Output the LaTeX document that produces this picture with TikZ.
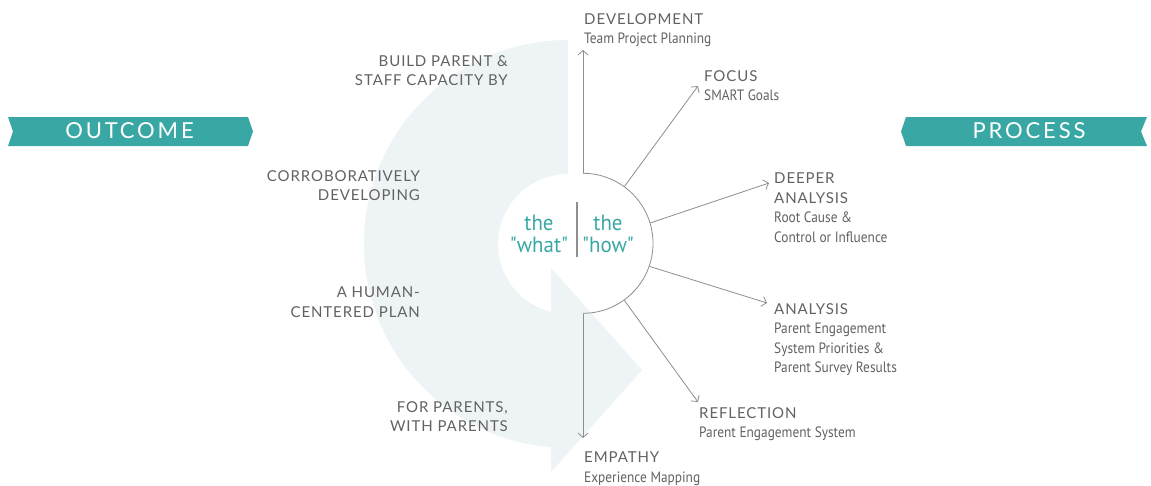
\documentclass[tikz,border=0pt]{standalone}
\usepackage{fontspec}
\setmainfont{Lato}
\newfontfamily\capsfont{Lato}[LetterSpace=6]
\newfontfamily\bannerfont{Lato}[LetterSpace=13]
\newfontfamily\condfont{PT Sans}[FakeStretch=0.89]
\newfontfamily\tealfont{PT Sans}[FakeStretch=0.95]
\usetikzlibrary{arrows.meta}
\definecolor{bannerteal}{HTML}{39A8A5}
\definecolor{ringblue}{HTML}{EEF4F6}
\definecolor{txtgray}{HTML}{626262}
\definecolor{linegray}{HTML}{8E8E8E}
\newcommand\subln{\condfont\fontsize{15}{19.5}\selectfont}
\begin{document}
\begin{tikzpicture}[x=1pt,y=-1pt,
  caps/.style={font=\capsfont\fontsize{15}{19.5}\selectfont, text=txtgray, inner sep=0pt},
  rlabel/.style={caps, anchor=north west, align=left},
  llabel/.style={caps, anchor=north east, align=right},
  arr/.style={draw=linegray, line width=0.8pt, -{Straight Barb[length=4.5pt,width=10pt]}},
  bannertext/.style={font=\bannerfont\fontsize{22}{24}\selectfont, text=white, inner sep=0pt},
  tealtext/.style={font=\tealfont\fontsize{22}{21.5}\selectfont, text=bannerteal, inner sep=0pt, align=center, anchor=north}
]
\useasboundingbox (0,0) rectangle (1151,485);
\fill[white] (0,0) rectangle (1151,485);

% ring with arrowhead
\fill[ringblue] (568,40) arc[start angle=-90, end angle=-265.2, radius=204]
  -- (551,311.9) arc[start angle=104, end angle=270, radius=70] -- cycle;
\fill[ringblue] (551,268) -- (642,370) -- (551,472) -- cycle;

% banners
\fill[bannerteal] (8,117) -- (248,117) -- (253,131.5) -- (248,146) -- (8,146) -- (13,131.5) -- cycle;
\node[bannertext] (outcome) at (129.5,131) {OUTCOME};
\fill[bannerteal] (906,117) -- (1147,117) -- (1141,131.5) -- (1147,146) -- (906,146) -- (901,131.5) -- cycle;
\node[bannertext] (process) at (1029,131) {PROCESS};

% hub
\node[circle, minimum size=140pt, inner sep=0pt] (how) at (583,243.5) {};
\draw[linegray, line width=0.8pt] (how.north) arc[start angle=-90, end angle=90, radius=70];
\draw[linegray, line width=1.6pt] (577,202) -- (577,257);
\node[tealtext] (what) at (539,215) {the\\"what"};
\node[tealtext] (howtxt) at (608,215) {the\\"how"};

% tips
\coordinate (tdev) at (583,50);
\coordinate (tfoc) at (698,86);
\coordinate (tdeep) at (769,183);
\coordinate (tana) at (767,303);
\coordinate (tref) at (698,402);
\coordinate (temp) at (583,438);

\draw[arr] (how.north) -- (tdev);
\draw[arr] (how.54) -- (tfoc);
\draw[arr] (how.17.5) -- (tdeep);
\draw[arr] (how.-19) -- (tana);
\draw[arr] (how.-54) -- (tref);
\draw[arr] (how.south) -- (temp);

% right labels
\node[rlabel] (dev) at (584,13) {DEVELOPMENT\\\subln Team Project Planning};
\node[rlabel] (foc) at (704,70) {FOCUS\\\subln SMART Goals};
\node[rlabel] (deep) at (774,173) {DEEPER\\ANALYSIS\\\subln Root Cause \&\\\subln Control or Influence};
\node[rlabel] (ana) at (774,303) {ANALYSIS\\\subln Parent Engagement\\\subln System Priorities \&\\\subln Parent Survey Results};
\node[rlabel] (ref) at (699,407) {REFLECTION\\\subln Parent Engagement System};
\node[rlabel] (emp) at (584,452) {EMPATHY\\\subln Experience Mapping};

% left labels
\node[llabel] (build) at (508,55) {BUILD PARENT \&\\STAFF CAPACITY BY};
\node[llabel] (corr) at (420,170) {CORROBORATIVELY\\DEVELOPING};
\node[llabel] (human) at (420,287) {A HUMAN-\\CENTERED PLAN};
\node[llabel] (forp) at (508,401) {FOR PARENTS,\\WITH PARENTS};
\end{tikzpicture}
\end{document}
